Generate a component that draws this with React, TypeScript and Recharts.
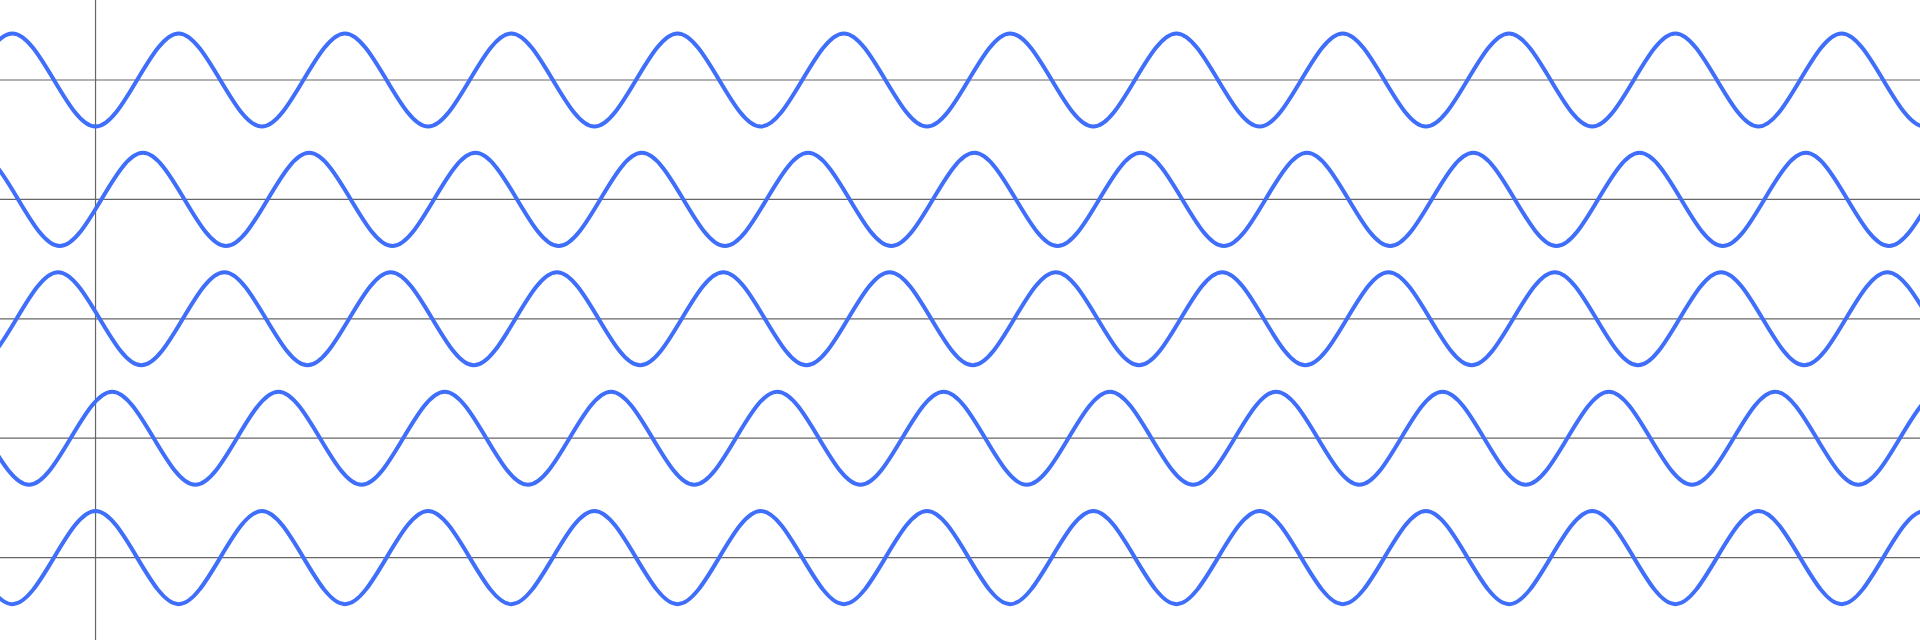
import { LineChart, Line, XAxis, YAxis, ReferenceLine } from 'recharts'

// x is measured in half-periods from the vertical line; each wave is given by its peaks and troughs
const X_DOMAIN: [number, number] = [-1.149, 21.942]
const Y_DOMAIN: [number, number] = [-0.69, 4.67]

const BASELINES = [0, 1, 2, 3, 4]
const VERTICAL_AT = 0

const W1_X = [-3, -2, -1, 0, 1, 2, 3, 4, 5, 6, 7, 8, 9, 10, 11, 12, 13, 14, 15, 16, 17, 18, 19, 20, 21, 22, 23, 24]
const W1_Y = [4.39, 3.61, 4.39, 3.61, 4.39, 3.61, 4.39, 3.61, 4.39, 3.61, 4.39, 3.61, 4.39, 3.61, 4.39, 3.61, 4.39, 3.61, 4.39, 3.61, 4.39, 3.61, 4.39, 3.61, 4.39, 3.61, 4.39, 3.61]

const W2_X = [-3.43, -2.43, -1.43, -0.43, 0.57, 1.57, 2.57, 3.57, 4.57, 5.57, 6.57, 7.57, 8.57, 9.57, 10.57, 11.57, 12.57, 13.57, 14.57, 15.57, 16.57, 17.57, 18.57, 19.57, 20.57, 21.57, 22.57, 23.57]
const W2_Y = [3.39, 2.61, 3.39, 2.61, 3.39, 2.61, 3.39, 2.61, 3.39, 2.61, 3.39, 2.61, 3.39, 2.61, 3.39, 2.61, 3.39, 2.61, 3.39, 2.61, 3.39, 2.61, 3.39, 2.61, 3.39, 2.61, 3.39, 2.61]

const W3_X = [-3.45, -2.45, -1.45, -0.45, 0.55, 1.55, 2.55, 3.55, 4.55, 5.55, 6.55, 7.55, 8.55, 9.55, 10.55, 11.55, 12.55, 13.55, 14.55, 15.55, 16.55, 17.55, 18.55, 19.55, 20.55, 21.55, 22.55, 23.55]
const W3_Y = [1.61, 2.39, 1.61, 2.39, 1.61, 2.39, 1.61, 2.39, 1.61, 2.39, 1.61, 2.39, 1.61, 2.39, 1.61, 2.39, 1.61, 2.39, 1.61, 2.39, 1.61, 2.39, 1.61, 2.39, 1.61, 2.39, 1.61, 2.39]

const W4_X = [-3.8, -2.8, -1.8, -0.8, 0.2, 1.2, 2.2, 3.2, 4.2, 5.2, 6.2, 7.2, 8.2, 9.2, 10.2, 11.2, 12.2, 13.2, 14.2, 15.2, 16.2, 17.2, 18.2, 19.2, 20.2, 21.2, 22.2, 23.2]
const W4_Y = [1.39, 0.61, 1.39, 0.61, 1.39, 0.61, 1.39, 0.61, 1.39, 0.61, 1.39, 0.61, 1.39, 0.61, 1.39, 0.61, 1.39, 0.61, 1.39, 0.61, 1.39, 0.61, 1.39, 0.61, 1.39, 0.61, 1.39, 0.61]

const W5_X = [-3, -2, -1, 0, 1, 2, 3, 4, 5, 6, 7, 8, 9, 10, 11, 12, 13, 14, 15, 16, 17, 18, 19, 20, 21, 22, 23, 24]
const W5_Y = [-0.39, 0.39, -0.39, 0.39, -0.39, 0.39, -0.39, 0.39, -0.39, 0.39, -0.39, 0.39, -0.39, 0.39, -0.39, 0.39, -0.39, 0.39, -0.39, 0.39, -0.39, 0.39, -0.39, 0.39, -0.39, 0.39, -0.39, 0.39]

const WAVES: [number[], number[]][] = [
  [W1_X, W1_Y],
  [W2_X, W2_Y],
  [W3_X, W3_Y],
  [W4_X, W4_Y],
  [W5_X, W5_Y],
]

const toPoints = (xs: number[], ys: number[]) => xs.map((x, i) => ({ x, y: ys[i] }))

export default function App() {
  return (
    <div style={{ position: 'absolute', left: 0, top: 0, width: 1920, height: 640, background: '#fff' }}>
      <LineChart width={1920} height={640} margin={{ top: 0, right: 0, bottom: 0, left: 0 }}>
        <XAxis type="number" dataKey="x" domain={X_DOMAIN} allowDataOverflow hide />
        <YAxis type="number" dataKey="y" domain={Y_DOMAIN} allowDataOverflow hide />
        {BASELINES.map(b => (
          <ReferenceLine key={b} y={b} stroke="#666" strokeWidth={1.2} ifOverflow="hidden" />
        ))}
        <ReferenceLine x={VERTICAL_AT} stroke="#666" strokeWidth={1.2} ifOverflow="hidden" />
        {WAVES.map(([xs, ys], i) => (
          <Line
            key={i}
            data={toPoints(xs, ys)}
            dataKey="y"
            type="monotone"
            stroke="#3f6ffa"
            strokeWidth={4}
            dot={false}
            activeDot={false}
            isAnimationActive={false}
          />
        ))}
      </LineChart>
    </div>
  )
}
